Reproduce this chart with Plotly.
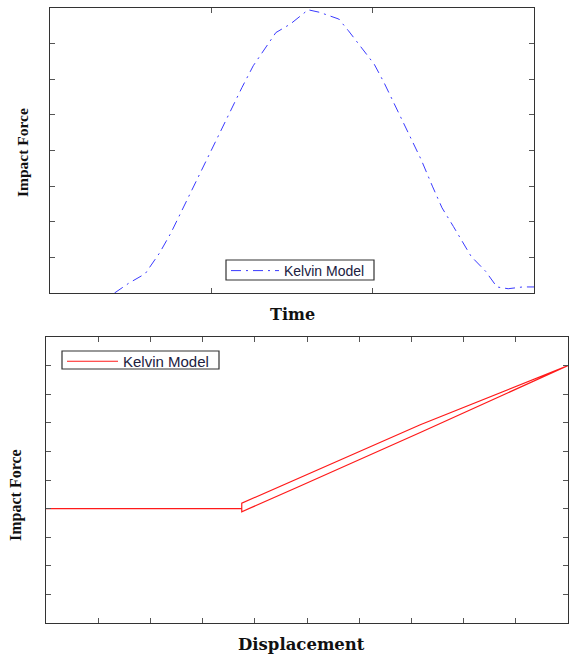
import plotly.graph_objects as go

# ---- data: top panel (impact force vs time, Kelvin model) ----
time = [0.40, 0.42, 0.49, 0.59, 0.68, 0.75, 0.81, 0.88, 0.95, 1.04, 1.11, 1.19, 1.26,
        1.40, 1.49, 1.60, 1.67, 1.79, 1.85, 1.94, 2.01, 2.07, 2.14, 2.23, 2.30, 2.37,
        2.43, 2.50, 2.57, 2.61, 2.70, 2.77, 2.84, 2.93, 3.00]
force_t = [0.0, 0.06, 0.28, 0.54, 1.13, 1.69, 2.25, 2.90, 3.56, 4.41, 5.02, 5.77, 6.38,
           7.31, 7.55, 7.95, 7.88, 7.69, 7.36, 6.85, 6.42, 5.91, 5.25, 4.41, 3.75, 3.00,
           2.39, 1.87, 1.31, 1.03, 0.61, 0.17, 0.12, 0.17, 0.17]

# ---- data: bottom panel (impact force vs displacement, hysteresis loop) ----
disp = [0.0, 3.75, 3.75, 4.87, 7.17, 10.0, 7.17, 4.87, 3.75, 3.75]
force_d = [4.0, 4.0, 4.19, 5.08, 6.93, 9.0, 6.66, 4.79, 3.89, 4.0]

legend_label = "Kelvin Model"

fig = go.Figure()
fig.add_trace(go.Scatter(x=time, y=force_t, mode="lines", name=legend_label,
                         line=dict(color="#3a3aff", width=1, dash="10px,5px,2px,5px"),
                         xaxis="x", yaxis="y", legend="legend"))
fig.add_trace(go.Scatter(x=disp, y=force_d, mode="lines", name=legend_label,
                         line=dict(color="#ff1a1a", width=1.2),
                         xaxis="x2", yaxis="y2", legend="legend2"))

axis_common = dict(showline=True, linecolor="#333333", linewidth=1.2, mirror="ticks",
                   ticks="inside", ticklen=5, tickcolor="#555555", tickwidth=1.2,
                   showticklabels=False, showgrid=False, zeroline=False)

W, H = 569, 657
fig.update_layout(
    width=W, height=H, margin=dict(l=0, r=0, t=0, b=0),
    paper_bgcolor="white", plot_bgcolor="white",
    xaxis=dict(domain=[50 / W, 534 / W], range=[0, 3], tick0=0, dtick=1,
               anchor="y", **axis_common),
    yaxis=dict(domain=[1 - 293 / H, 1 - 8 / H], range=[0, 8], tick0=0, dtick=1,
               anchor="x", **axis_common),
    xaxis2=dict(domain=[46 / W, 568 / W], range=[0, 10], tick0=0, dtick=1,
                anchor="y2", **axis_common),
    yaxis2=dict(domain=[1 - 623 / H, 1 - 337 / H], range=[0, 10], tick0=0, dtick=1,
                anchor="x2", **axis_common),
    legend=dict(x=226 / W, y=1 - 255 / H, xanchor="left", yanchor="top",
                bgcolor="rgba(0,0,0,0)", borderwidth=0,
                font=dict(family="Liberation Sans", size=14, color="#202040"),
                itemwidth=48, tracegroupgap=0),
    legend2=dict(x=62 / W, y=1 - 345 / H, xanchor="left", yanchor="top",
                 bgcolor="rgba(0,0,0,0)", borderwidth=0,
                 font=dict(family="Liberation Sans", size=15, color="#202040"),
                 itemwidth=51, tracegroupgap=0),
    showlegend=True,
)

# legend frames
for (x0, y0, x1, y1) in [(226, 260, 374, 280), (62, 351, 219, 369)]:
    fig.add_shape(type="rect", xref="paper", yref="paper",
                  x0=x0 / W, x1=x1 / W, y0=1 - y1 / H, y1=1 - y0 / H,
                  line=dict(color="#333333", width=1.2), fillcolor="rgba(0,0,0,0)")

annots = [
    dict(text="<b>Time</b>", x=292 / W, y=1 - 314 / H, size=16, fam="DejaVu Serif"),
    dict(text="<b>Displacement</b>", x=301 / W, y=1 - 644 / H, size=16.5, fam="DejaVu Serif"),
    dict(text="<b>Impact Force</b>", x=22 / W, y=1 - 153 / H, textangle=-90, size=15.5,
         fam="Liberation Serif"),
    dict(text="<b>Impact Force</b>", x=16 / W, y=1 - 495 / H, textangle=-90, size=16,
         fam="Liberation Serif"),
]
for a in annots:
    size = a.pop("size")
    fam = a.pop("fam")
    fig.add_annotation(xref="paper", yref="paper", showarrow=False,
                       xanchor="center", yanchor="middle",
                       font=dict(family=fam, size=size, color="#111111"), **a)

fig.write_html("out.html")
